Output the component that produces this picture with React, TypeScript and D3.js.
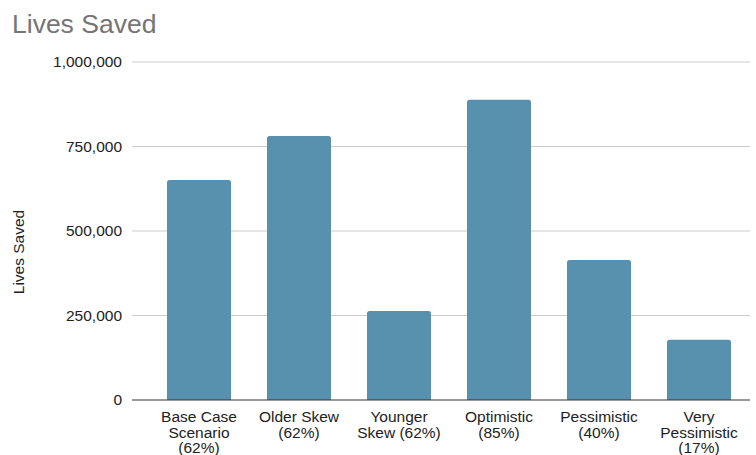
import React from "react";
import * as d3 from "d3";

const categories: string[][] = [
  ["Base Case", "Scenario", "(62%)"],
  ["Older Skew", "(62%)"],
  ["Younger", "Skew (62%)"],
  ["Optimistic", "(85%)"],
  ["Pessimistic", "(40%)"],
  ["Very", "Pessimistic", "(17%)"],
];
const values: number[] = [651000, 781000, 263000, 888000, 414000, 178000];
const yTicks: number[] = [0, 250000, 500000, 750000, 1000000];

const W = 756;
const H = 455;
const FONT = "Arial, 'Liberation Sans', Helvetica, sans-serif";

export default function App() {
  const keys = categories.map((c) => c.join(" "));
  const x = d3.scaleBand<string>().domain(keys).range([149, 749]).paddingInner(0.36).paddingOuter(0.18);
  const y = d3.scaleLinear().domain([0, 1000000]).range([400, 62]);
  const fmt = d3.format(",");
  const r = 2.5;

  const barPath = (x0: number, w: number, y0: number, y1: number) => {
    return `M${x0},${y1} L${x0},${y0 + r} Q${x0},${y0} ${x0 + r},${y0} L${x0 + w - r},${y0} Q${x0 + w},${y0} ${x0 + w},${y0 + r} L${x0 + w},${y1} Z`;
  };

  return (
    <svg width={W} height={H} style={{ position: "absolute", left: 0, top: 0 }} fontFamily={FONT}>
      <rect x={0} y={0} width={W} height={H} fill="#fff" />
      <text x={12} y={33} fontSize={26.5} fill="#757575">Lives Saved</text>
      {yTicks.map((t) => (
        <g key={t}>
          {t !== 0 && (
            <line x1={132} x2={750} y1={y(t)} y2={y(t)} stroke="#cccccc" strokeWidth={1} />
          )}
          <text x={122} y={y(t)} dy="0.35em" textAnchor="end" fontSize={15.5} fill="#222">
            {fmt(t)}
          </text>
        </g>
      ))}
      <text
        transform={`translate(19,${252}) rotate(-90)`}
        textAnchor="middle"
        dy="0.35em"
        fontSize={15.5}
        fill="#222"
      >
        Lives Saved
      </text>
      {values.map((v, i) => {
        const bx = x(keys[i])!;
        return (
          <path key={i} d={barPath(bx, x.bandwidth(), y(v), y(0))} fill="#5891ae" />
        );
      })}
      <line x1={132} x2={750} y1={y(0)} y2={y(0)} stroke="#333" strokeWidth={1.2} />
      {categories.map((lines, i) => {
        const cx = x(keys[i])! + x.bandwidth() / 2;
        return (
          <text key={i} x={cx} y={422} textAnchor="middle" fontSize={15.5} fill="#222">
            {lines.map((l, j) => (
              <tspan key={j} x={cx} dy={j === 0 ? 0 : 15.5}>
                {l}
              </tspan>
            ))}
          </text>
        );
      })}
    </svg>
  );
}
